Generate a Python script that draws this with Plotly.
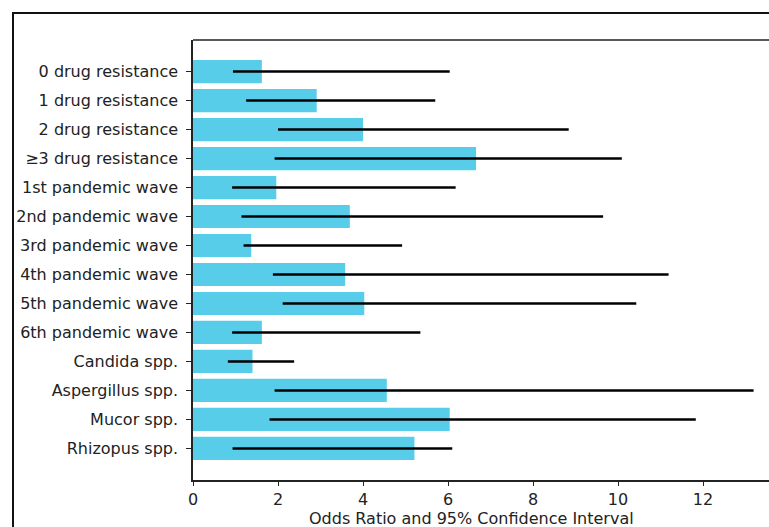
import plotly.graph_objects as go

categories = ["0 drug resistance", "1 drug resistance", "2 drug resistance", "≥3 drug resistance",
              "1st pandemic wave", "2nd pandemic wave", "3rd pandemic wave", "4th pandemic wave",
              "5th pandemic wave", "6th pandemic wave", "Candida spp.", "Aspergillus spp.",
              "Mucor spp.", "Rhizopus spp."]
odds_ratio = [1.62, 2.91, 4.00, 6.66, 1.96, 3.69, 1.37, 3.58, 4.03, 1.62, 1.40, 4.56, 6.04, 5.21]
ci_low = [0.94, 1.25, 2.00, 1.92, 0.92, 1.14, 1.19, 1.88, 2.11, 0.92, 0.82, 1.92, 1.80, 0.93]
ci_high = [6.04, 5.70, 8.84, 10.09, 6.18, 9.65, 4.92, 11.19, 10.43, 5.35, 2.38, 13.19, 11.83, 6.10]
x_ticks = [0, 2, 4, 6, 8, 10, 12]
x_title = "Odds Ratio and 95% Confidence Interval"

W, H = 769, 527
L, T = 193, 40
bottom = 480
px_per_unit = 42.5
R = 0
right = W - R
xmax = (right - L) / px_per_unit
B = H - bottom
pw, ph = right - L, bottom - T

fig = go.Figure()
fig.add_trace(go.Bar(
    y=categories, x=odds_ratio, orientation="h",
    marker=dict(color="#58CDE9", line=dict(width=0)),
    error_x=dict(type="data", symmetric=False,
                 array=[h - o for h, o in zip(ci_high, odds_ratio)],
                 arrayminus=[o - l for o, l in zip(odds_ratio, ci_low)],
                 color="black", thickness=2.5, width=0),
    showlegend=False,
))

font = dict(family="DejaVu Sans", size=16, color="#222222")
fig.update_layout(
    width=W, height=H,
    margin=dict(l=L, r=R, t=T, b=B, pad=0),
    paper_bgcolor="white", plot_bgcolor="white",
    bargap=0.2,
    font=font,
    xaxis=dict(range=[0, xmax], tickvals=x_ticks, ticktext=[str(v) for v in x_ticks],
               showgrid=False, zeroline=False, showline=True, linecolor="#222222", linewidth=1.5,
               ticks="outside", ticklen=4, tickcolor="#222222", tickfont=font),
    yaxis=dict(categoryorder="array", categoryarray=categories, range=[14.09, -1.09],
               showgrid=False, zeroline=False, showline=True, linecolor="#222222", linewidth=1.5,
               ticks="outside", ticklen=5, tickcolor="#222222", tickfont=font, ticklabelstandoff=5),
)

fig.add_annotation(text=x_title, xref="paper", yref="paper",
                   x=(471.5 - L) / pw, y=(bottom - 518) / ph,
                   xanchor="center", yanchor="middle", showarrow=False, font=font)

# top spine of the axes box (extends past the cropped right edge)
fig.add_shape(type="line", xref="paper", yref="paper", x0=0, x1=1.2, y0=1, y1=1,
              line=dict(color="#222222", width=1.5), layer="above")

# outer figure frame (cropped)
fig.add_shape(type="rect", xref="paper", yref="paper",
              x0=(13 - L) / pw, x1=1.2, y0=-0.3, y1=(bottom - 13) / ph,
              line=dict(color="#111111", width=2), fillcolor="rgba(0,0,0,0)", layer="above")

fig.write_html("out.html", config={"displayModeBar": False},
               post_script="document.body.style.margin='0';")
